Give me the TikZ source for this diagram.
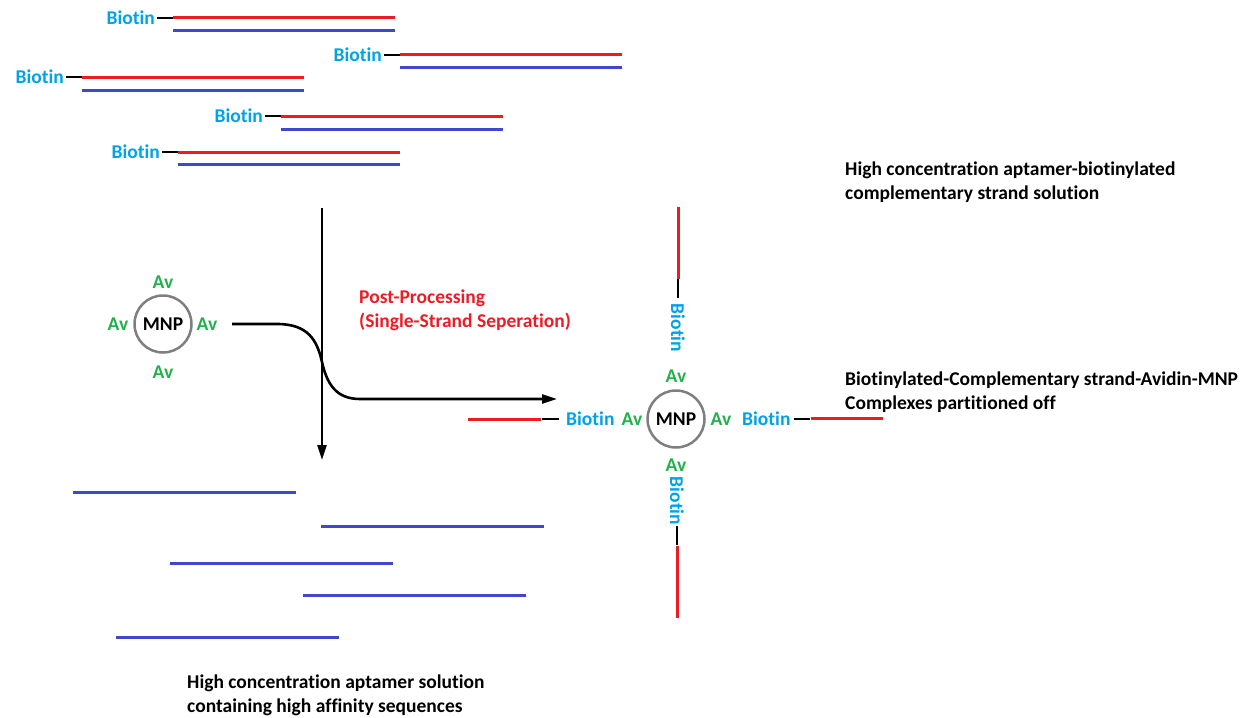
\documentclass[tikz,border=0pt]{standalone}
\usepackage{fontspec}
\setmainfont{Carlito}[Ligatures={NoCommon}]
\usetikzlibrary{arrows.meta}
\definecolor{biotinblue}{RGB}{0,162,232}
\definecolor{avgreen}{RGB}{34,177,76}
\definecolor{dnared}{RGB}{237,28,36}
\definecolor{dnablue}{RGB}{63,72,204}
\definecolor{mnpgray}{RGB}{127,127,127}
\begin{document}
\begin{tikzpicture}[x=1pt,y=-1pt,
  lab/.style={font=\fontsize{19.5pt}{23.8pt}\selectfont\bfseries, inner sep=0pt},
  bio/.style={lab, text=biotinblue},
  av/.style={lab, text=avgreen},
  note/.style={lab, align=left, anchor=base west},
  sense/.style={draw=dnared, line width=3pt},
  anti/.style={draw=dnablue, line width=3pt},
  linker/.style={draw=black, line width=1.1pt},
  flow/.style={draw=black, line width=2.6pt, -{Triangle[length=15pt,width=9pt]}},
  mnp/.style={circle, draw=mnpgray, line width=2.5pt, minimum size=57pt, inner sep=0pt,
              font=\fontsize{19.5pt}{23.8pt}\selectfont\bfseries}]
\useasboundingbox (0,0) rectangle (1257,717);

% biotinylated duplexes (complementary strand on top, aptamer below)
\foreach \n/\sx/\ry/\by in {1/173/18/31, 2/400/55/67, 3/82/77/90, 4/281/116/129, 5/178/152/164}{
  \coordinate (s\n) at (\sx,\ry);
  \coordinate (e\n) at (\sx+222,\ry);
  \node[bio, anchor=east] (b\n) at (\sx-18,\ry) {Biotin};
  \draw[linker] ([xshift=2pt]b\n.east) -- (s\n);
  \draw[sense] (s\n) -- (e\n);
  \draw[anti] (\sx,\by) -- (\sx+222,\by);
}

% free aptamer strands after separation
\foreach \n/\sx/\y in {1/73/492, 2/321/526, 3/170/563, 4/303/595, 5/116/637}{
  \draw[anti] (\sx,\y) -- (\sx+223,\y);
}

% avidin-coated magnetic nanoparticle
\node[mnp] (m1) at (163,324) {MNP};
\node[av] (m1t) at (163,282) {Av};
\node[av] (m1b) at (163,372) {Av};
\node[av] (m1l) at (118,324) {Av};
\node[av] (m1r) at (207,324) {Av};

% process arrows
\coordinate (vtop) at (322,208);
\coordinate (vbot) at (322,460);
\draw[flow] (vtop) -- (vbot);
\coordinate (cstart) at (232,324);
\coordinate (cend) at (557,399);
\draw[flow] (cstart) -- (277,324)
  .. controls (308,324) and (317,340) .. (322,362)
  .. controls (327,384) and (336,399) .. (360,399) -- (cend);

\node[lab, text=dnared, align=left, anchor=base west] (pp) at (359,327)
  {Post-Processing\\(Single-Strand Seperation)};

% captured complexes
\node[mnp] (m2) at (676,419) {MNP};
\node[av] (m2t) at (676,376) {Av};
\node[av] (m2b) at (676,465) {Av};
\node[av] (m2l) at (632,419) {Av};
\node[av] (m2r) at (721,419) {Av};

\node[bio, rotate=-90] (bt) at (678,328) {Biotin};
\coordinate (bt0) at (678,298);
\draw[linker] (bt0) -- (678,279);
\draw[sense] (678,279) -- (678,207);

\node[bio, rotate=-90] (bb) at (677,501) {Biotin};
\coordinate (bb0) at (677,526);
\draw[linker] (bb0) -- (677,545);
\draw[sense] (677,546) -- (677,618);

\node[bio, anchor=west] (bl) at (566,419) {Biotin};
\draw[linker] (542,419) -- ([xshift=-7pt]bl.west);
\draw[sense] (468,419) -- (541,419);

\node[bio, anchor=west] (br) at (742,419) {Biotin};
\draw[linker] ([xshift=3pt]br.east) -- (810,419);
\draw[sense] (811,418) -- (883,418);

% captions
\node[note] (c1) at (845,199) {High concentration aptamer-biotinylated\\complementary strand solution};
\node[note] (c2) at (845,409) {Biotinylated-Complementary strand-Avidin-MNP\\Complexes partitioned off};
\node[note] (c3) at (187,712) {High concentration aptamer solution\\containing high affinity sequences};
\end{tikzpicture}
\end{document}
